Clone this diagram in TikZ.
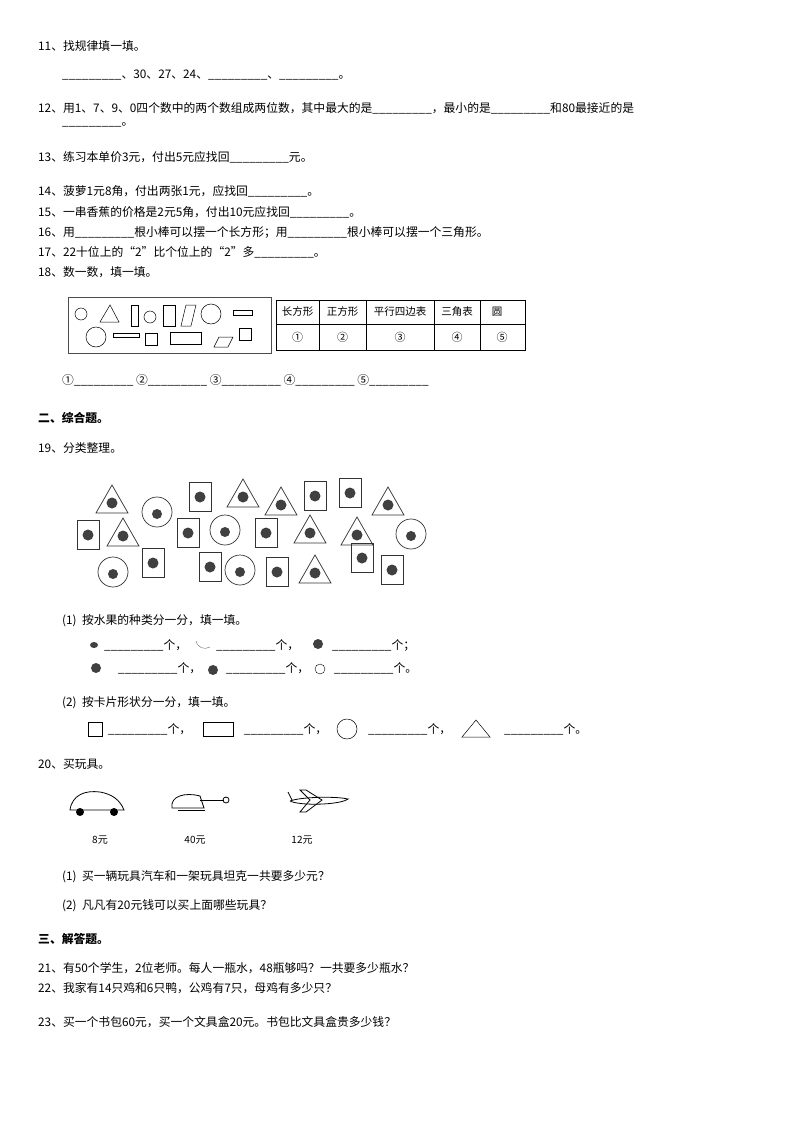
\documentclass[tikz,border=0pt]{standalone}
\usepackage{fontspec}
\setmainfont{Noto Sans CJK SC}
\begin{document}
\begin{tikzpicture}[x=1pt,y=-1pt,
  t/.style={anchor=west,inner sep=0pt,font=\fontsize{11.8}{13}\selectfont},
  b/.style={t,font=\fontsize{11.8}{13}\selectfont\bfseries},
  sh/.style={draw,line width=0.5pt},
  card/.style={draw,line width=0.7pt,black!80},
  fr/.style={fill=black!75},
  toy/.style={draw,line width=0.8pt}]
\useasboundingbox (0,0) rectangle (794,1124);
\node[t] (q11) at (38,46) {11、找规律填一填。};
\node[t] (q11a) at (62,75) {\_\_\_\_\_\_\_\_\_、30、27、24、\_\_\_\_\_\_\_\_\_、\_\_\_\_\_\_\_\_\_。};
\node[t] (q12) at (38,108) {12、用1、7、9、0四个数中的两个数组成两位数，其中最大的是\_\_\_\_\_\_\_\_\_，最小的是\_\_\_\_\_\_\_\_\_和80最接近的是};
\node[t] (q12a) at (62,125) {\_\_\_\_\_\_\_\_\_。};
\node[t] (q13) at (38,157) {13、练习本单价3元，付出5元应找回\_\_\_\_\_\_\_\_\_元。};
\node[t] (q14) at (38,191) {14、菠萝1元8角，付出两张1元，应找回\_\_\_\_\_\_\_\_\_。};
\node[t] (q15) at (38,212) {15、一串香蕉的价格是2元5角，付出10元应找回\_\_\_\_\_\_\_\_\_。};
\node[t] (q16) at (38,232) {16、用\_\_\_\_\_\_\_\_\_根小棒可以摆一个长方形；用\_\_\_\_\_\_\_\_\_根小棒可以摆一个三角形。};
\node[t] (q17) at (38,252) {17、22十位上的“2”比个位上的“2”多\_\_\_\_\_\_\_\_\_。};
\node[t] (q18) at (38,272) {18、数一数，填一填。};
% shapes box
\draw[line width=0.8pt,black!70] (68,297) rectangle (271,353);
\draw[sh] (81,314) circle (6);
\draw[sh] (100,322) -- (110,305) -- (119,322) -- cycle;
\draw[sh] (131,305) rectangle (138,326);
\draw[sh] (150,317) circle (6);
\draw[sh] (163,305) rectangle (175,326);
\draw[sh] (186,305) -- (196,305) -- (191,326) -- (181,326) -- cycle;
\draw[sh] (211,314) circle (10);
\draw[sh] (233,310) rectangle (252,315);
\draw[sh] (96,337) circle (10);
\draw[sh] (113,333) rectangle (139,337);
\draw[sh] (145,333) rectangle (157,345);
\draw[sh] (170,332) rectangle (201,344);
\draw[sh] (219,337) -- (233,337) -- (228,347) -- (214,347) -- cycle;
\draw[sh] (239,328) rectangle (251,340);
% table
\draw[line width=0.8pt] (276,300) rectangle (525,350);
\draw[line width=0.6pt] (276,324) -- (525,324);
\foreach \x in {319,366,434,480} \draw[line width=0.6pt] (\x,300) -- (\x,350);
\node[font=\fontsize{10.5}{12}\selectfont] (h1) at (297.5,312) {长方形};
\node[font=\fontsize{10.5}{12}\selectfont] (h2) at (342.5,312) {正方形};
\node[font=\fontsize{10.5}{12}\selectfont] (h3) at (400,312) {平行四边表};
\node[font=\fontsize{10.5}{12}\selectfont] (h4) at (457,312) {三角表};
\node[font=\fontsize{10.5}{12}\selectfont] (h5) at (497,312) {圆};
\node[font=\fontsize{11}{12}\selectfont] (c1) at (297.5,337) {①};
\node[font=\fontsize{11}{12}\selectfont] (c2) at (342.5,337) {②};
\node[font=\fontsize{11}{12}\selectfont] (c3) at (400,337) {③};
\node[font=\fontsize{11}{12}\selectfont] (c4) at (457,337) {④};
\node[font=\fontsize{11}{12}\selectfont] (c5) at (502,337) {⑤};
\node[t] (q18a) at (62,380) {①\_\_\_\_\_\_\_\_\_ ②\_\_\_\_\_\_\_\_\_ ③\_\_\_\_\_\_\_\_\_ ④\_\_\_\_\_\_\_\_\_ ⑤\_\_\_\_\_\_\_\_\_};
\node[b] (s2) at (38,418) {二、综合题。};
\node[t] (q19) at (38,448) {19、分类整理。};
% fruit cards
\foreach \x/\y in {112/500,243/494,281/502,388/502,123/533,310/530,357/532,315/570}
  {\draw[card] (\x-16,\y+13) -- (\x,\y-15) -- (\x+16,\y+13) -- cycle; \fill[fr] (\x,\y+3) circle (5.5);}
\foreach \x/\y in {157/512,225/530,411/534,113/572,240/570}
  {\draw[card] (\x,\y) circle (15); \fill[fr] (\x,\y+2) circle (5);}
\foreach \x/\y in {200/497,315/496,350/493,88/535,188/533,266/533,153/563,210/567,277/572,362/558,392/570}
  {\draw[card] (\x-11,\y-15) rectangle (\x+11,\y+14); \fill[fr] (\x,\y) circle (5.5);}
\node[t] (p1) at (62,621) {(1)\ \ 按水果的种类分一分，填一填。};
\fill[fr] (94,645) ellipse (4 and 3);
\node[t] (f1) at (104,645) {\_\_\_\_\_\_\_\_\_个，};
\draw[black!60] (196,641) .. controls (198,648) and (204,650) .. (210,647);
\node[t] (f2) at (216,645) {\_\_\_\_\_\_\_\_\_个，};
\fill[fr] (318,644) circle (5);
\node[t] (f3) at (332,645) {\_\_\_\_\_\_\_\_\_个；};
\fill[fr] (96,668) circle (5);
\node[t] (f4) at (118,668) {\_\_\_\_\_\_\_\_\_个，};
\fill[fr] (213,670) circle (5);
\node[t] (f5) at (226,668) {\_\_\_\_\_\_\_\_\_个，};
\draw (320,669) circle (5);
\node[t] (f6) at (334,668) {\_\_\_\_\_\_\_\_\_个。};
\node[t] (p2) at (62,703) {(2)\ \ 按卡片形状分一分，填一填。};
\draw[sh] (88,722) rectangle (102,736);
\node[t] (g1) at (108,729) {\_\_\_\_\_\_\_\_\_个，};
\draw[sh] (203,722) rectangle (233,736);
\node[t] (g2) at (244,729) {\_\_\_\_\_\_\_\_\_个，};
\draw[sh] (347,729) circle (10);
\node[t] (g3) at (368,729) {\_\_\_\_\_\_\_\_\_个，};
\draw[sh] (462,737) -- (476,720) -- (490,737) -- cycle;
\node[t] (g4) at (504,729) {\_\_\_\_\_\_\_\_\_个。};
\node[t] (q20) at (38,764) {20、买玩具。};
% toys
\draw[toy] (70,810) .. controls (72,795) and (85,790) .. (100,792) .. controls (112,794) and (120,800) .. (124,810) -- cycle;
\fill (80,812) circle (4); \fill (114,812) circle (4);
\draw[toy] (172,808) .. controls (170,796) and (185,792) .. (200,796) -- (204,808) -- cycle;
\draw[toy] (200,800) -- (224,800); \draw[toy] (226,800) circle (3);
\draw[toy] (178,810) -- (205,810);
\draw[toy] (290,801) .. controls (300,797) and (335,796) .. (348,799) .. controls (340,805) and (300,806) .. (290,801);
\draw[toy] (310,800) -- (300,790) -- (306,790) -- (322,800) -- (306,812) -- (300,812) -- cycle;
\draw[toy] (292,800) -- (288,792);
\node[font=\fontsize{10}{11}\selectfont] (pr1) at (100,840) {8元};
\node[font=\fontsize{10}{11}\selectfont] (pr2) at (195,840) {40元};
\node[font=\fontsize{10}{11}\selectfont] (pr3) at (302,840) {12元};
\node[t] (r1) at (62,877) {(1)\ \ 买一辆玩具汽车和一架玩具坦克一共要多少元？};
\node[t] (r2) at (62,906) {(2)\ \ 凡凡有20元钱可以买上面哪些玩具？};
\node[b] (s3) at (38,939) {三、解答题。};
\node[t] (q21) at (38,968) {21、有50个学生，2位老师。每人一瓶水，48瓶够吗？一共要多少瓶水？};
\node[t] (q22) at (38,988) {22、我家有14只鸡和6只鸭，公鸡有7只，母鸡有多少只？};
\node[t] (q23) at (38,1022) {23、买一个书包60元，买一个文具盒20元。书包比文具盒贵多少钱？};
\end{tikzpicture}
\end{document}
